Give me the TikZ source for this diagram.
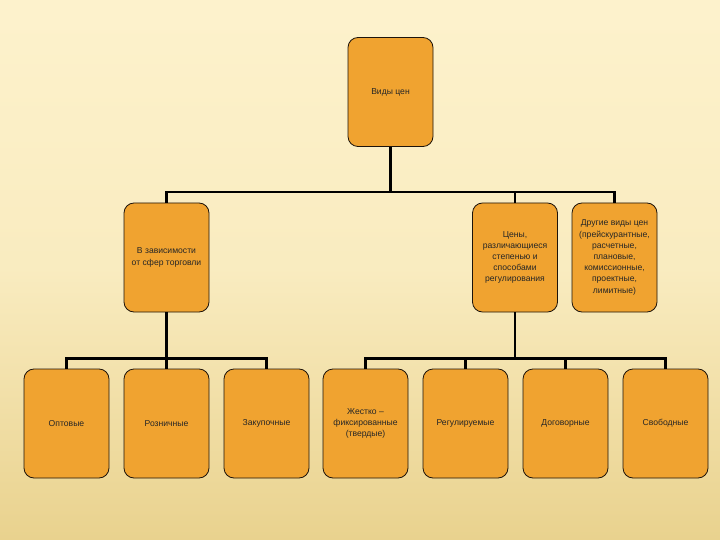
\documentclass[tikz,border=0pt]{standalone}
\usepackage{fontspec}
\setmainfont{Liberation Sans}
\begin{document}
\begin{tikzpicture}[x=1pt,y=-1pt,
  box/.style={draw=black!85!brown, line width=0.8pt, fill=boxor, rounded corners=10pt,
    minimum width=85pt, minimum height=109pt, inner sep=1pt, align=center,
    font=\fontsize{8.6}{11.2}\selectfont, text=black!85},
  conn/.style={line width=2.3pt, black}]
\definecolor{boxor}{HTML}{F0A330}
\definecolor{bgtop}{HTML}{FDF2CC}
\definecolor{bgbot}{HTML}{E9D28E}
\useasboundingbox (0,0) rectangle (720,540);
\shade[top color=bgtop, bottom color=bgbot, middle color=bgtop!80!bgbot] (0,0) rectangle (720,540);
\fill[bgtop] (0,0) rectangle (720,30);
% bus junctions
\coordinate (bus1) at (390.5,192);
\coordinate (bus2) at (166.5,358.5);
\coordinate (bus3) at (515,358.5);
% nodes
\node[box] (root) at (390.5,92) {Виды цен};
\node[box] (sfer) at (166.5,257.5) {В зависимости\\от сфер торговли};
\node[box] (reg) at (515,257.5) {Цены,\\различающиеся\\степенью и\\способами\\регулирования};
\node[box] (oth) at (614.5,257.5) {Другие виды цен\\(прейскурантные,\\расчетные,\\плановые,\\комиссионные,\\проектные,\\лимитные)};
\node[box] (opt) at (66.5,423.5) {Оптовые};
\node[box] (roz) at (166.5,423.5) {Розничные};
\node[box] (zak) at (266.5,423.5) {Закупочные};
\node[box] (zhe) at (365.5,423.5) {Жестко –\\фиксированные\\(твердые)};
\node[box] (rgl) at (465.5,423.5) {Регулируемые};
\node[box] (dog) at (565.5,423.5) {Договорные};
\node[box] (svo) at (665.5,423.5) {Свободные};
% connectors
\draw[conn] (root.south) -- (bus1);
\draw[conn] (sfer.north) |- (bus1);
\draw[conn] (bus1) -| (oth.north);
\draw[conn] (bus1) -| (reg.north);
\draw[conn] (sfer.south) -- (bus2);
\draw[conn] (opt.north) |- (bus2);
\draw[conn] (bus2) -| (zak.north);
\draw[conn] (bus2) -- (roz.north);
\draw[conn] (reg.south) -- (bus3);
\draw[conn] (zhe.north) |- (bus3);
\draw[conn] (bus3) -| (svo.north);
\draw[conn] (rgl.north) |- (bus3);
\draw[conn] (dog.north) |- (bus3);
\end{tikzpicture}
\end{document}
